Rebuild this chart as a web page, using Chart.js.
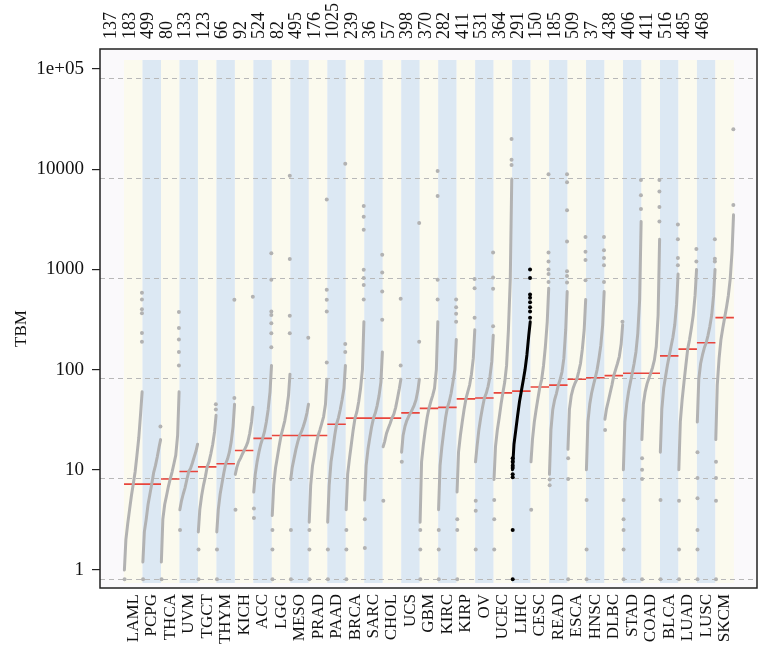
<!DOCTYPE html>
<html>
<head>
<meta charset="utf-8">
<script src="https://cdn.jsdelivr.net/npm/chart.js@4.4.1/dist/chart.umd.min.js"></script>
<style>
  body { margin: 0; background: #fff; }
  #wrap { width: 761px; height: 657px; }
</style>
</head>
<body>
<div id="wrap"><canvas id="tmb-chart" width="761" height="657"></canvas></div>
<script>
const cancerTypes = ['LAML', 'PCPG', 'THCA', 'UVM', 'TGCT', 'THYM', 'KICH', 'ACC', 'LGG', 'MESO', 'PRAD',
    'PAAD', 'BRCA', 'SARC', 'CHOL', 'UCS', 'GBM', 'KIRC', 'KIRP', 'OV', 'UCEC', 'LIHC', 'CESC', 'READ',
    'ESCA', 'HNSC', 'DLBC', 'STAD', 'COAD', 'BLCA', 'LUAD', 'LUSC', 'SKCM'];
const sampleCounts = [137, 183, 499, 80, 133, 123, 66, 92, 524, 82, 495, 176, 1025, 239, 36, 57, 398, 370,
    282, 411, 531, 364, 291, 150, 185, 509, 37, 438, 406, 411, 516, 485, 468];
const medians = [7.2, 7.2, 8.1, 9.6, 10.7, 11.5, 15.6, 20.6, 22, 22, 22, 28.5, 32.8, 32.8, 32.8, 37, 41, 42,
    51, 52, 58.6, 61, 67, 70, 80, 83, 87, 92, 92, 137, 160, 185, 330];
const highlighted = 'LIHC';

// sorted TMB values read at these ranks (fraction of samples) in each cancer type
const quantiles = [0.02, 0.1, 0.2, 0.3, 0.4, 0.5, 0.6, 0.7, 0.8, 0.9, 0.98];
const curveValues = [
    [1.0, 2.0, 2.9, 4.0, 5.5, 7.2, 9.5, 14, 21, 37, 60],
    [1.2, 2.4, 3.2, 4.5, 5.7, 7.2, 9.3, 11, 13.5, 17, 20],
    [1.2, 3.2, 4.5, 5.5, 6.8, 8.1, 9.5, 11.5, 14, 22, 60],
    [4.0, 4.8, 5.7, 6.6, 8.0, 9.6, 10.3, 11.7, 13.5, 15.5, 18],
    [2.4, 4.0, 5.5, 7.0, 8.5, 10.7, 12, 14.5, 18, 24, 35],
    [2.4, 4.0, 5.7, 7.3, 9.3, 11.5, 12.8, 15, 19, 27, 45],
    [9, 10.5, 12, 13, 14.3, 15.6, 17, 19, 23, 30, 42],
    [6, 9, 12, 15, 18, 20.6, 24, 30, 40, 60, 110],
    [3.5, 7, 10.5, 13.5, 17.5, 22, 26, 31, 40, 55, 90],
    [8, 10.5, 13, 16, 19, 22, 24, 27, 31, 37, 45],
    [3, 7, 11, 14, 18, 22, 25, 29, 34, 45, 80],
    [3, 7, 12, 16, 22, 28.5, 33, 40, 50, 65, 110],
    [4, 9, 13, 18, 25, 32.8, 38, 48, 65, 100, 300],
    [5, 11, 16, 21, 27, 32.8, 37, 44, 55, 75, 150],
    [17, 19, 23, 26, 29, 32.8, 36, 42, 52, 65, 80],
    [15, 22, 27, 31, 34, 37, 40, 44, 50, 62, 80],
    [3, 12, 18, 25, 33, 41, 48, 55, 65, 100, 300],
    [4, 11, 17, 24, 33, 42, 48, 58, 75, 100, 200],
    [6, 15, 22, 30, 40, 51, 60, 70, 90, 130, 250],
    [12, 17, 25, 33, 42, 52, 58, 68, 85, 120, 220],
    [8, 17, 25, 33, 45, 58.6, 75, 110, 250, 800, 8000],
    [10, 18, 25, 35, 48, 61, 78, 100, 140, 220, 300],
    [12, 20, 30, 40, 52, 67, 80, 110, 170, 300, 650],
    [9, 25, 40, 50, 58, 70, 80, 95, 130, 250, 600],
    [16, 40, 55, 65, 73, 80, 95, 115, 160, 250, 500],
    [10, 30, 45, 58, 70, 83, 100, 130, 175, 280, 600],
    [32, 40, 48, 58, 70, 87, 100, 115, 135, 180, 280],
    [10, 30, 45, 60, 75, 92, 115, 150, 230, 500, 3000],
    [20, 45, 60, 72, 82, 92, 105, 125, 170, 350, 2000],
    [15, 40, 65, 85, 110, 137, 170, 210, 280, 450, 900],
    [10, 30, 50, 75, 110, 160, 200, 260, 350, 550, 1000],
    [30, 80, 115, 140, 165, 185, 220, 270, 350, 550, 1000],
    [20, 70, 130, 200, 260, 330, 420, 550, 800, 1500, 3500]
];
// single samples that sit apart at the low and high ends
const lowDots = [
    [0.81], [0.81], [0.81], [2.5], [0.81, 1.6], [0.81, 1.6], [4.0], [3.3, 4.1], [0.81, 1.6, 2.5],
    [0.81, 2.5], [0.81, 1.6, 2.5], [0.81, 1.6], [0.81, 1.6, 2.5], [1.66, 3.2], [4.9], [12],
    [0.81, 1.6, 2.5], [0.81, 1.6, 2.5], [0.81, 2.5, 3.2], [1.6, 3.9, 4.9], [1.6, 3.2, 5],
    [0.81, 2.5, 8.4, 9.0, 10.4, 11, 12, 13], [4.0], [7, 8], [0.81, 8.1, 13], [0.81, 1.6, 5], [25],
    [0.81, 1.6, 2.5, 3.2, 5], [0.81, 8.1, 10, 13], [0.81, 5], [0.81, 1.6, 4.9],
    [0.81, 1.6, 2.5, 5.2, 8.3, 15], [0.81, 4.9, 8.3, 12]
];
const highDots = [
    [190, 232, 365, 400, 500, 585], [27], [110, 150, 200, 260, 376], [], [40, 45], [52, 498], [534],
    [167, 230, 290, 350, 380, 789, 1450], [230, 345, 1270, 8600], [208], [118, 380, 498, 627, 4970],
    [150, 180, 11300], [500, 700, 820, 993, 2490, 3360, 4300], [315, 600, 930, 1400], [110, 510],
    [190, 2900], [500, 790, 5400, 9600], [300, 360, 420, 500], [330, 650, 800], [270, 640, 830, 1470],
    [11000, 12400, 20000], [330, 380, 420, 470, 520, 560, 820, 1000], [750, 900, 1000, 1200, 1470, 8900],
    [740, 860, 960, 1900, 3900, 7400, 8900], [780, 1240, 1500, 2100], [750, 1100, 1300, 1550, 2100],
    [300], [4000, 5500, 7800], [3000, 4200, 6000, 7800], [1100, 1300, 2000, 2800], [1200, 1600],
    [1200, 1280, 2000], [4400, 25000]
];

const yTicks = [1, 10, 100, 1000, 10000, 100000];
const yTickLabels = ['1', '10', '100', '1000', '10000', '1e+05'];
const gridLevels = [0.82, 8.2, 82, 820, 8200, 82000];
const yTitle = 'TBM';

const serif = 'Liberation Serif';
const grey = '#b2b2b2';

const datasets = [];
cancerTypes.forEach(function(name, i) {
    const colour = name === highlighted ? '#000000' : grey;
    datasets.push({
        data: quantiles.map((q, k) => ({ x: i + q, y: curveValues[i][k] })),
        showLine: true,
        borderColor: colour,
        borderWidth: 3,
        borderCapStyle: 'round',
        borderJoinStyle: 'round',
        pointRadius: 0,
        tension: 0
    });
    const dots = lowDots[i].map(v => ({ x: i + 0.03, y: v }))
        .concat(highDots[i].map(v => ({ x: i + 0.97, y: v })));
    datasets.push({
        data: dots,
        showLine: false,
        pointRadius: 2,
        pointBorderWidth: 0,
        pointBackgroundColor: colour
    });
});

const medianPoints = [];
medians.forEach(function(m, i) {
    medianPoints.push({ x: i, y: m }, { x: i + 1, y: m }, { x: i + 1, y: null });
});
datasets.push({
    data: medianPoints,
    showLine: true,
    spanGaps: false,
    borderColor: '#e8453c',
    borderWidth: 1.6,
    pointRadius: 0
});

const backdrop = {
    id: 'backdrop',
    beforeDatasetsDraw(chart) {
        const { ctx, chartArea: a, scales: { x, y } } = chart;
        ctx.save();
        ctx.fillStyle = '#faf9fb';
        ctx.fillRect(a.left, a.top, a.right - a.left, a.bottom - a.top);
        cancerTypes.forEach(function(_, i) {
            const x0 = x.getPixelForValue(i);
            const x1 = x.getPixelForValue(i + 1);
            ctx.fillStyle = i % 2 === 0 ? '#fbfaee' : '#dce8f3';
            ctx.fillRect(x0, a.top + 11, x1 - x0, a.bottom - a.top - 16);
        });
        ctx.strokeStyle = '#b8b8b8';
        ctx.lineWidth = 1;
        ctx.setLineDash([5, 4]);
        gridLevels.forEach(function(v) {
            const py = Math.round(y.getPixelForValue(v)) + 0.5;
            ctx.beginPath();
            ctx.moveTo(a.left, py);
            ctx.lineTo(a.right, py);
            ctx.stroke();
        });
        ctx.restore();
    },
    afterDraw(chart) {
        const { ctx, chartArea: a } = chart;
        ctx.save();
        ctx.strokeStyle = '#222';
        ctx.lineWidth = 1.5;
        ctx.strokeRect(a.left, a.top, a.right - a.left, a.bottom - a.top);
        // axis title sits a little below the middle in the original
        ctx.translate(22, (a.top + a.bottom) / 2 + 10);
        ctx.rotate(-Math.PI / 2);
        ctx.fillStyle = '#111';
        ctx.font = '17px "' + serif + '"';
        ctx.textAlign = 'center';
        ctx.textBaseline = 'middle';
        ctx.fillText(yTitle, 0, 0);
        ctx.restore();
    }
};

function columnTicks() {
    return cancerTypes.map((_, i) => ({ value: i + 0.5 }));
}

new Chart(document.getElementById('tmb-chart').getContext('2d'), {
    type: 'scatter',
    data: { datasets: datasets },
    plugins: [backdrop],
    options: {
        responsive: false,
        animation: false,
        layout: { padding: { right: 2, left: 0, top: 0, bottom: 0 } },
        plugins: { legend: { display: false }, tooltip: { enabled: false } },
        scales: {
            x: {
                type: 'linear',
                position: 'bottom',
                min: -1.3,
                max: 34.25,
                afterBuildTicks: s => { s.ticks = columnTicks(); },
                afterFit: s => { s.height = 69; },
                grid: { display: false, drawTicks: false, tickLength: 0 },
                border: { display: false },
                ticks: {
                    autoSkip: false,
                    minRotation: 90,
                    maxRotation: 90,
                    padding: 6,
                    color: '#111',
                    font: { family: serif, size: 17 },
                    callback: (v, idx) => cancerTypes[idx]
                }
            },
            x2: {
                type: 'linear',
                position: 'top',
                min: -1.3,
                max: 34.25,
                afterBuildTicks: s => { s.ticks = columnTicks(); },
                afterFit: s => { s.height = 49; },
                grid: { display: false, drawTicks: false, tickLength: 0 },
                border: { display: false },
                ticks: {
                    autoSkip: false,
                    minRotation: 90,
                    maxRotation: 90,
                    padding: 10,
                    color: '#111',
                    font: { family: serif, size: 18 },
                    callback: (v, idx) => String(sampleCounts[idx])
                }
            },
            y: {
                type: 'logarithmic',
                min: 0.661,
                max: 158300,
                afterBuildTicks: s => { s.ticks = yTicks.map(v => ({ value: v })); },
                afterFit: s => { s.width = 100; },
                grid: { drawOnChartArea: false, drawTicks: true, tickLength: 8, color: '#222', lineWidth: 1.2 },
                border: { display: false },
                ticks: {
                    padding: 8,
                    color: '#111',
                    font: { family: serif, size: 19 },
                    callback: (v, idx) => yTickLabels[idx]
                }
            }
        }
    }
});
</script>
</body>
</html>
